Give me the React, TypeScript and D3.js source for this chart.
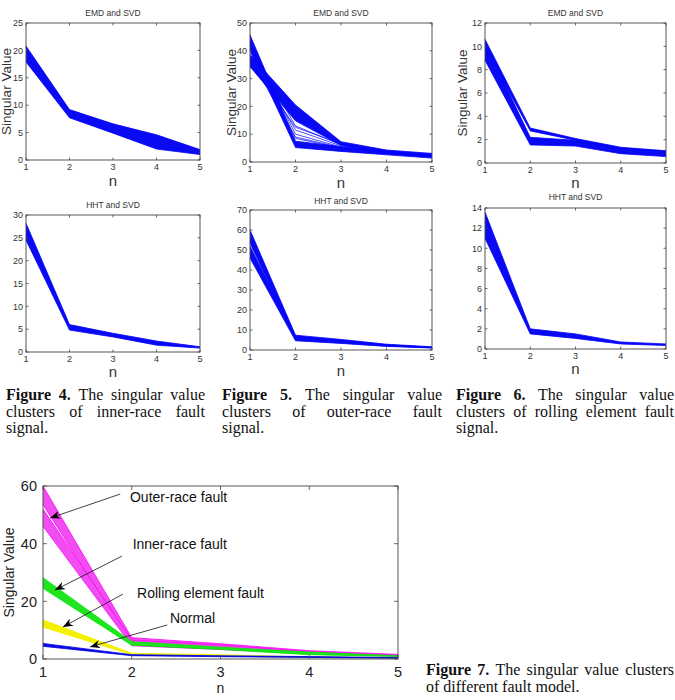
import React from 'react'
import * as d3 from 'd3'

// n axis shared by every panel
const nValues = [1, 2, 3, 4, 5]

// Figure 4 (top) – EMD and SVD, inner-race fault: envelope of the cluster
const emdInnerHi = [20.8, 9.2, 6.6, 4.6, 1.9]
const emdInnerLo = [17.9, 7.7, 4.9, 2.0, 1.0]

// Figure 5 (top) – EMD and SVD, outer-race fault: two crossing bundles + loose lines
const emdOuterAHi = [45.7, 7.5, 5.5, 3.9, 2.8]
const emdOuterALo = [40.2, 5.2, 3.8, 2.6, 1.4]
const emdOuterBHi = [38.6, 20.5, 7.3, 4.3, 3.1]
const emdOuterBLo = [34.3, 14.8, 6.0, 3.3, 2.0]
const emdOuterLoose = [
  [41.0, 13.0, 6.2, 3.8, 2.4],
  [39.5, 11.5, 5.8, 3.6, 2.3],
  [42.0, 10.0, 5.4, 3.5, 2.2],
  [37.0, 9.0, 5.2, 3.4, 2.1],
  [43.0, 8.5, 5.0, 3.3, 2.0],
  [36.0, 12.5, 6.5, 3.9, 2.5],
]

// Figure 6 (top) – EMD and SVD, rolling element fault
const emdRollTopHi = [10.6, 3.0, 2.1, 1.35, 1.05]
const emdRollTopLo = [9.9, 2.75, 1.95, 1.2, 0.9]
const emdRollMainHi = [10.3, 2.2, 1.95, 1.25, 1.0]
const emdRollMainLo = [8.8, 1.55, 1.45, 0.8, 0.55]

// HHT and SVD clusters (bottom row, also used in Figure 7)
const hhtInnerHi = [28.2, 6.0, 4.1, 2.4, 1.15]
const hhtInnerLo = [24.5, 4.8, 3.3, 1.5, 0.85]
const hhtOuterAHi = [60.0, 7.4, 5.3, 2.9, 1.6]
const hhtOuterALo = [53.5, 5.4, 3.9, 2.1, 1.1]
const hhtOuterBHi = [52.0, 6.6, 4.8, 2.6, 1.4]
const hhtOuterBLo = [46.0, 4.6, 3.3, 1.8, 1.0]
const hhtRollHi = [13.6, 2.0, 1.5, 0.7, 0.5]
const hhtRollLo = [11.0, 1.5, 1.05, 0.5, 0.35]
const normalHi = [5.4, 1.5, 1.1, 0.85, 0.5]
const normalLo = [4.4, 1.15, 0.8, 0.55, 0.25]

const idx = nValues.map((_, i) => i)
const SANS = 'Liberation Sans, Arial, sans-serif'
const SERIF = 'Liberation Serif, Times New Roman, serif'
const CAP_SIZE = 16

type Band = { hi: number[], lo: number[], fill: string, stroke: string }
type Box = { l: number, t: number, r: number, b: number }

// measure words with a canvas so caption lines can be justified by word spacing
let ctx: CanvasRenderingContext2D | null = null
const measure = (txt: string, bold: boolean) => {
  if (!ctx) ctx = document.createElement('canvas').getContext('2d')
  if (!ctx) return txt.length * CAP_SIZE * 0.45
  ctx.font = `${bold ? 'bold ' : ''}${CAP_SIZE}px "Liberation Serif"`
  return ctx.measureText(txt).width
}

const Frame = ({ box, x, y, yTicks, tickLen, font, labelColor, tickLabelY, yLabelEnd }) => (
  <g>
    <rect x={box.l} y={box.t} width={box.r - box.l} height={box.b - box.t} fill="none" stroke="#444" strokeWidth={0.9} />
    {nValues.map(v => (
      <g key={'x' + v}>
        <line x1={x(v)} x2={x(v)} y1={box.b} y2={box.b - tickLen} stroke="#444" strokeWidth={0.8} />
        <line x1={x(v)} x2={x(v)} y1={box.t} y2={box.t + tickLen} stroke="#444" strokeWidth={0.8} />
        <text x={x(v)} y={tickLabelY} textAnchor="middle" fontFamily={SANS} fontSize={font} fill={labelColor}>{v}</text>
      </g>
    ))}
    {yTicks.map(v => (
      <g key={'y' + v}>
        <line x1={box.l} x2={box.l + tickLen} y1={y(v)} y2={y(v)} stroke="#444" strokeWidth={0.8} />
        <line x1={box.r} x2={box.r - tickLen} y1={y(v)} y2={y(v)} stroke="#444" strokeWidth={0.8} />
        <text x={yLabelEnd} y={y(v) + font * 0.36} textAnchor="end" fontFamily={SANS} fontSize={font} fill={labelColor}>{v}</text>
      </g>
    ))}
  </g>
)

const BandMarks = ({ bands, x, y }) => (
  <g>
    {bands.map((bd: Band, k: number) => {
      const area = d3.area<number>().x(i => x(nValues[i])).y0(i => y(bd.lo[i])).y1(i => y(bd.hi[i]))
      const lineHi = d3.line<number>().x(i => x(nValues[i])).y(i => y(bd.hi[i]))
      const lineLo = d3.line<number>().x(i => x(nValues[i])).y(i => y(bd.lo[i]))
      return (
        <g key={k}>
          <path d={area(idx)} fill={bd.fill} />
          <path d={lineHi(idx)} fill="none" stroke={bd.stroke} strokeWidth={0.8} />
          <path d={lineLo(idx)} fill="none" stroke={bd.stroke} strokeWidth={0.8} />
        </g>
      )
    })}
  </g>
)

const SmallPanel = ({ box, yMax, yStep, title, titleY, bands, loose = [], yLabelX, tickLabelY, nY }:
  { box: Box, yMax: number, yStep: number, title: string, titleY: number, bands: Band[], loose?: number[][], yLabelX?: number, tickLabelY: number, nY: number }) => {
  const x = d3.scaleLinear().domain([1, 5]).range([box.l, box.r])
  const y = d3.scaleLinear().domain([0, yMax]).range([box.b, box.t])
  const yTicks = d3.range(0, yMax + 0.001, yStep)
  const cx = (box.l + box.r) / 2
  return (
    <g>
      <BandMarks bands={bands} x={x} y={y} />
      {loose.map((vals, k) => {
        const ln = d3.line<number>().x(i => x(nValues[i])).y(i => y(vals[i]))
        return <path key={'l' + k} d={ln(idx)} fill="none" stroke="#0000ff" strokeWidth={0.7} />
      })}
      <Frame box={box} x={x} y={y} yTicks={yTicks} tickLen={2.5} font={9} labelColor="#333" tickLabelY={tickLabelY} yLabelEnd={box.l - 3} />
      <text x={cx} y={titleY} textAnchor="middle" fontFamily={SANS} fontSize={8.5} fill="#333">{title}</text>
      <text x={cx} y={nY} textAnchor="middle" fontFamily={SANS} fontSize={15} fill="#333">n</text>
      {yLabelX !== undefined && (
        <text transform={`translate(${yLabelX},${(box.t + box.b) / 2}) rotate(-90)`} textAnchor="middle" fontFamily={SANS} fontSize={13.5} fill="#333">Singular Value</text>
      )}
    </g>
  )
}

const blue = (hi: number[], lo: number[]): Band => ({ hi, lo, fill: '#0a0af2', stroke: '#0000ff' })

const BigPanel = () => {
  const box = { l: 43, t: 486, r: 398, b: 659 }
  const x = d3.scaleLinear().domain([1, 5]).range([box.l, box.r])
  const y = d3.scaleLinear().domain([0, 60]).range([box.b, box.t])
  const bands: Band[] = [
    { hi: hhtOuterAHi, lo: hhtOuterALo, fill: '#f04ef0', stroke: '#ff00ff' },
    { hi: hhtOuterBHi, lo: hhtOuterBLo, fill: '#f04ef0', stroke: '#ff00ff' },
    { hi: hhtInnerHi, lo: hhtInnerLo, fill: '#1ee61e', stroke: '#00e600' },
    { hi: hhtRollHi, lo: hhtRollLo, fill: '#f4f000', stroke: '#f0f000' },
    { hi: normalHi, lo: normalLo, fill: '#0a0ae6', stroke: '#0000e0' },
  ]
  // annotation layout in data coordinates: text anchor, arrow tail -> tip
  const notes = [
    { text: 'Outer-race fault', tx: 1.98, ty: 54.3, x1: 1.87, y1: 57.2, x2: 1.08, y2: 48.9 },
    { text: 'Inner-race fault', tx: 2.01, ty: 38.3, x1: 1.89, y1: 35.7, x2: 1.135, y2: 23.9 },
    { text: 'Rolling element fault', tx: 2.06, ty: 21.3, x1: 1.9, y1: 22.5, x2: 1.225, y2: 11.1 },
    { text: 'Normal', tx: 2.43, ty: 12.6, x1: 2.4, y1: 11.8, x2: 1.53, y2: 4.2 },
  ]
  return (
    <g>
      <defs>
        <marker id="ah" viewBox="0 0 10 8" refX={10} refY={4} markerWidth={10} markerHeight={8} markerUnits="userSpaceOnUse" orient="auto">
          <path d="M0,0 L10,4 L0,8 L3,4 z" fill="#000" />
        </marker>
      </defs>
      <BandMarks bands={bands} x={x} y={y} />
      <Frame box={box} x={x} y={y} yTicks={[0, 20, 40, 60]} tickLen={4} font={14.5} labelColor="#222" tickLabelY={677} yLabelEnd={37} />
      {notes.map(nt => (
        <g key={nt.text}>
          <line x1={x(nt.x1)} y1={y(nt.y1)} x2={x(nt.x2)} y2={y(nt.y2)} stroke="#111" strokeWidth={0.8} markerEnd="url(#ah)" />
          <text x={x(nt.tx)} y={y(nt.ty)} fontFamily={SANS} fontSize={14} fill="#111">{nt.text}</text>
        </g>
      ))}
      <text x={(box.l + box.r) / 2} y={693} textAnchor="middle" fontFamily={SANS} fontSize={14} fill="#222">n</text>
      <text transform={`translate(14,${(box.t + box.b) / 2}) rotate(-90)`} textAnchor="middle" fontFamily={SANS} fontSize={14} fill="#222">Singular Value</text>
    </g>
  )
}

// one caption line; justified lines spread extra room over the word gaps
const CapLine = ({ x, y, width, words, boldCount, justify }) => {
  const widths = words.map((w: string, i: number) => measure(w, i < boldCount))
  const total = widths.reduce((a: number, b: number) => a + b, 0)
  const space = measure(' ', false)
  const gap = justify && words.length > 1 ? (width - total) / (words.length - 1) : space
  let cur = x
  return (
    <g>
      {words.map((w: string, i: number) => {
        const px = cur
        cur += widths[i] + gap
        return <text key={i} x={px} y={y} fontWeight={i < boldCount ? 'bold' : 'normal'}>{w}</text>
      })}
    </g>
  )
}

const Caption = ({ x, width, y, num, rest, line2, line3 }) => (
  <g fontFamily={SERIF} fontSize={CAP_SIZE} fill="#111">
    <CapLine x={x} y={y} width={width} words={['Figure', `${num}.`, ...rest.split(' ')]} boldCount={2} justify />
    <CapLine x={x} y={y + 16.5} width={width} words={line2.split(' ')} boldCount={0} justify={!!line3} />
    {line3 && <CapLine x={x} y={y + 33} width={width} words={[line3]} boldCount={0} justify={false} />}
  </g>
)

export default function App() {
  return (
    <svg width={675} height={700} style={{ position: 'absolute', left: 0, top: 0, background: '#fff' }}>
      <rect width={675} height={700} fill="#fff" />
      <SmallPanel box={{ l: 26, t: 23, r: 200, b: 160 }} yMax={25} yStep={5} title="EMD and SVD" titleY={16}
        bands={[blue(emdInnerHi, emdInnerLo)]} yLabelX={11} tickLabelY={170} nY={186} />
      <SmallPanel box={{ l: 250, t: 23, r: 432, b: 162 }} yMax={50} yStep={10} title="EMD and SVD" titleY={16}
        bands={[blue(emdOuterAHi, emdOuterALo), blue(emdOuterBHi, emdOuterBLo)]} loose={emdOuterLoose}
        yLabelX={236} tickLabelY={172} nY={188} />
      <SmallPanel box={{ l: 485, t: 23, r: 666, b: 163 }} yMax={12} yStep={2} title="EMD and SVD" titleY={16}
        bands={[blue(emdRollTopHi, emdRollTopLo), blue(emdRollMainHi, emdRollMainLo)]}
        yLabelX={467} tickLabelY={173} nY={188} />

      <SmallPanel box={{ l: 26, t: 215, r: 200, b: 352 }} yMax={30} yStep={5} title="HHT and SVD" titleY={208}
        bands={[blue(hhtInnerHi, hhtInnerLo)]} tickLabelY={362} nY={377} />
      <SmallPanel box={{ l: 250, t: 210, r: 432, b: 350 }} yMax={70} yStep={10} title="HHT and SVD" titleY={204}
        bands={[blue(hhtOuterAHi, hhtOuterALo), blue(hhtOuterBHi, hhtOuterBLo)]} tickLabelY={360} nY={376} />
      <SmallPanel box={{ l: 485, t: 208, r: 666, b: 349 }} yMax={14} yStep={2} title="HHT and SVD" titleY={200}
        bands={[blue(hhtRollHi, hhtRollLo)]} tickLabelY={359} nY={374} />

      <Caption x={6} width={199} y={400} num={4} rest="The singular value" line2="clusters of inner-race fault" line3="signal." />
      <Caption x={222} width={220} y={400} num={5} rest="The singular value" line2="clusters of outer-race fault" line3="signal." />
      <Caption x={456} width={218} y={400} num={6} rest="The singular value" line2="clusters of rolling element fault" line3="signal." />

      <BigPanel />
      <Caption x={426} width={248} y={675} num={7} rest="The singular value clusters" line2="of different fault model." line3={null} />
    </svg>
  )
}
